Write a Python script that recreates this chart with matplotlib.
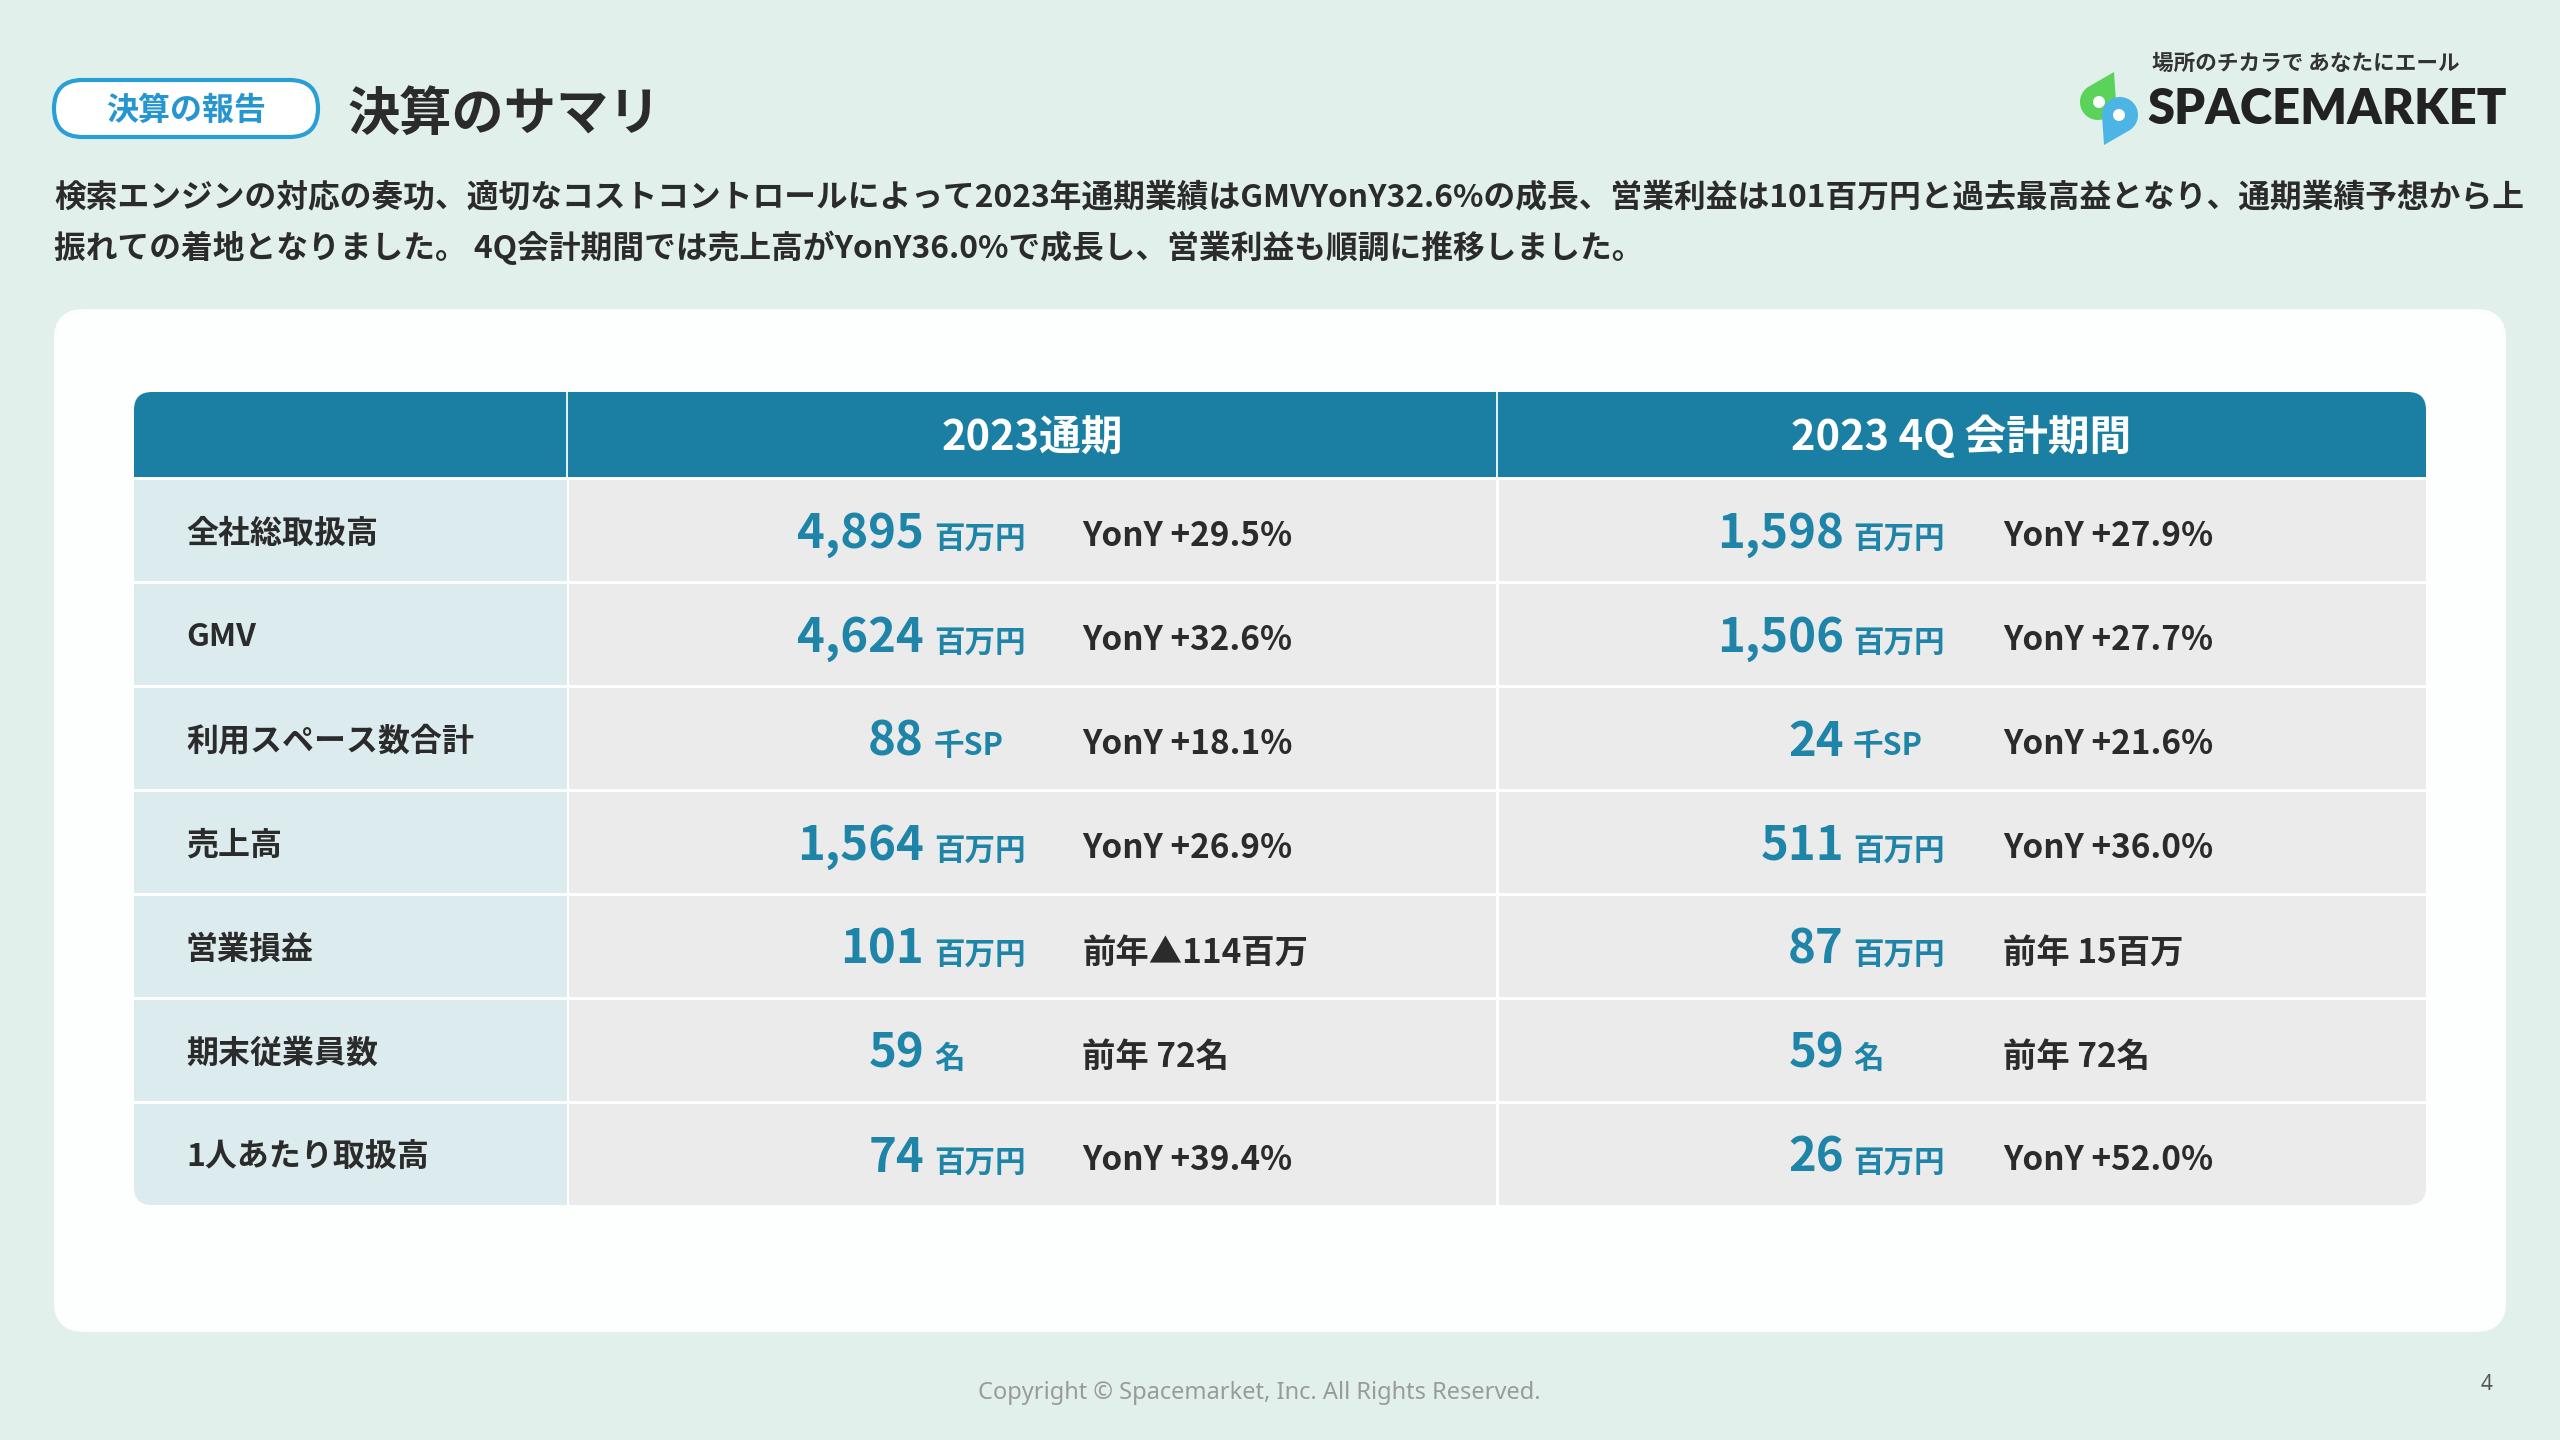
import numpy as np
import matplotlib
matplotlib.use("Agg")
import matplotlib.pyplot as plt
from matplotlib.patches import FancyBboxPatch, Rectangle, Polygon, Circle

plt.rcParams['font.family'] = ['Noto Sans CJK JP', 'DejaVu Sans']

##
# Data
row_labels = ['全社総取扱高', 'GMV', '利用スペース数合計', '売上高', '営業損益', '期末従業員数', '1人あたり取扱高']
col_headers = ['2023通期', '2023 4Q 会計期間']
fy_values = ['4,895', '4,624', '88', '1,564', '101', '59', '74']
fy_units = ['百万円', '百万円', '千SP', '百万円', '百万円', '名', '百万円']
fy_compare = ['YonY +29.5%', 'YonY +32.6%', 'YonY +18.1%', 'YonY +26.9%', '前年▲114百万', '前年 72名', 'YonY +39.4%']
q4_values = ['1,598', '1,506', '24', '511', '87', '59', '26']
q4_units = ['百万円', '百万円', '千SP', '百万円', '百万円', '名', '百万円']
q4_compare = ['YonY +27.9%', 'YonY +27.7%', 'YonY +21.6%', 'YonY +36.0%', '前年 15百万', '前年 72名', 'YonY +52.0%']

desc_lines = [
    '検索エンジンの対応の奏功、適切なコストコントロールによって2023年通期業績はGMVYonY32.6%の成長、営業利益は101百万円と過去最高益となり、通期業績予想から上',
    '振れての着地となりました。 4Q会計期間では売上高がYonY36.0%で成長し、営業利益も順調に推移しました。',
]

# colours
BG = '#e2f0eb'
TEAL = '#1a7fa2'
NUM = '#1e84a8'
LABEL_BG = '#dcebee'
CELL_BG = '#ebebeb'
DARK = '#2b2b2b'

W, H = 2560, 1440
fig = plt.figure(figsize=(25.6, 14.4), dpi=100, facecolor=BG)
ax = fig.add_axes([0, 0, 1, 1])
ax.set_xlim(0, W)
ax.set_ylim(H, 0)
ax.axis('off')
renderer = fig.canvas.get_renderer()


def fit_text(x, y, s, width, size=20, **kw):
    """draws a text and rescales it so it takes the given width in pixels"""
    t = ax.text(x, y, s, fontsize=size, **kw)
    w = t.get_window_extent(renderer).width
    t.set_fontsize(size * width / w)
    return t


##
# header
pill = FancyBboxPatch((54, 80), 264, 57, boxstyle='round,pad=0,rounding_size=28.5',
                      fc='white', ec='#2a9fd6', lw=3)
ax.add_patch(pill)
ax.text(186, 111, '決算の報告', fontsize=23, color='#2596d0', fontweight='bold',
        ha='center', va='center')
fit_text(348, 114, '決算のサマリ', 313, size=38, color=DARK, fontweight='bold', va='center')

t = fit_text(54, 197, desc_lines[0], 2470, size=24, color=DARK, fontweight='bold', va='center')
ax.text(54, 248, desc_lines[1], fontsize=t.get_fontsize(), color=DARK, fontweight='bold', va='center')

# logo
def drop(center, r, tip, color):
    c = np.array(center, float)
    p = np.array(tip, float)
    d = p - c
    dist = np.hypot(*d)
    base = np.arctan2(d[1], d[0])
    half = np.arccos(r / dist)
    ang = np.linspace(base + half, base + 2 * np.pi - half, 80)
    pts = np.column_stack([c[0] + r * np.cos(ang), c[1] + r * np.sin(ang)])
    pts = np.vstack([pts, p])
    ax.add_patch(Polygon(pts, closed=True, fc=color, ec='none'))

drop((2098, 102), 18, (2114, 72), '#5bd35b')
drop((2120, 115), 18, (2104, 145), '#4db5e5')
ax.add_patch(Circle((2099, 102), 6, fc='white', ec='none'))
ax.add_patch(Circle((2119, 115), 6, fc='white', ec='none'))
fit_text(2152, 63, '場所のチカラで あなたにエール', 308, size=15, color='#333333',
         fontweight='bold', va='center')
fit_text(2147, 110, 'SPACEMARKET', 359, size=40, color='#222222', fontweight='heavy',
         family='Lato', va='center')

##
# card and table
card = FancyBboxPatch((54, 309), 2452, 1023, boxstyle='round,pad=0,rounding_size=30',
                      fc='#fdfefe', ec='none')
ax.add_patch(card)

tx0, tx1 = 134, 2426
cx = [134, 567, 1497, 2426]
head_top, head_bot = 392, 477
row_h = (1205 - head_bot) / len(row_labels)
gap = 3

clip = FancyBboxPatch((tx0, head_top), tx1 - tx0, 1205 - head_top,
                      boxstyle='round,pad=0,rounding_size=18', fc='none', ec='none')
ax.add_patch(clip)

patches = []
patches.append(Rectangle((tx0, head_top), tx1 - tx0, head_bot - head_top, fc=TEAL, ec='none'))
for i in range(len(row_labels)):
    y0 = head_bot + i * row_h + gap
    patches.append(Rectangle((cx[0], y0), cx[1] - cx[0], row_h - gap, fc=LABEL_BG, ec='none'))
    patches.append(Rectangle((cx[1] + gap / 2, y0), cx[3] - cx[1], row_h - gap, fc=CELL_BG, ec='none'))
    patches.append(Rectangle((cx[2] - gap / 2, y0), gap, row_h - gap, fc='white', ec='none'))
for p in patches:
    ax.add_patch(p)
    p.set_clip_path(clip)
for xx in cx[1:3]:
    ax.add_patch(Rectangle((xx - 1, head_top), 2, head_bot - head_top, fc='#dfeef3', ec='none'))

for j, h in enumerate(col_headers):
    ax.text((cx[j + 1] + cx[j + 2]) / 2, (head_top + head_bot) / 2 + 3, h, fontsize=30,
            color='white', fontweight='bold', ha='center', va='center')

cols = [(fy_values, fy_units, fy_compare, 924, 934, 1082),
        (q4_values, q4_units, q4_compare, 1844, 1853, 2003)]
for i, lab in enumerate(row_labels):
    yc = head_bot + i * row_h + gap + (row_h - gap) / 2
    ax.text(186, yc + 3, lab, fontsize=23, color=DARK, fontweight='bold', va='center')
    for vals, units, comp, xr, xu, xc in cols:
        yb = yc + 17
        ax.text(xr, yb, vals[i], fontsize=34, color=NUM, fontweight='bold',
                ha='right', va='baseline')
        ax.text(xu, yb, units[i], fontsize=22, color=NUM, fontweight='bold',
                ha='left', va='baseline')
        ax.text(xc, yb - 1, comp[i], fontsize=24, color=DARK, fontweight='bold',
                ha='left', va='baseline')

##
# footer
ax.text(1259, 1393, 'Copyright © Spacemarket, Inc. All Rights Reserved.', fontsize=17,
        color='#9a9a9a', ha='center', va='center', family=['Noto Sans', 'DejaVu Sans'])
ax.text(2487, 1385, '4', fontsize=15, color='#555555', ha='center', va='center',
        family=['Noto Sans', 'DejaVu Sans'])

fig.savefig('out.png', dpi=100, facecolor=BG)
